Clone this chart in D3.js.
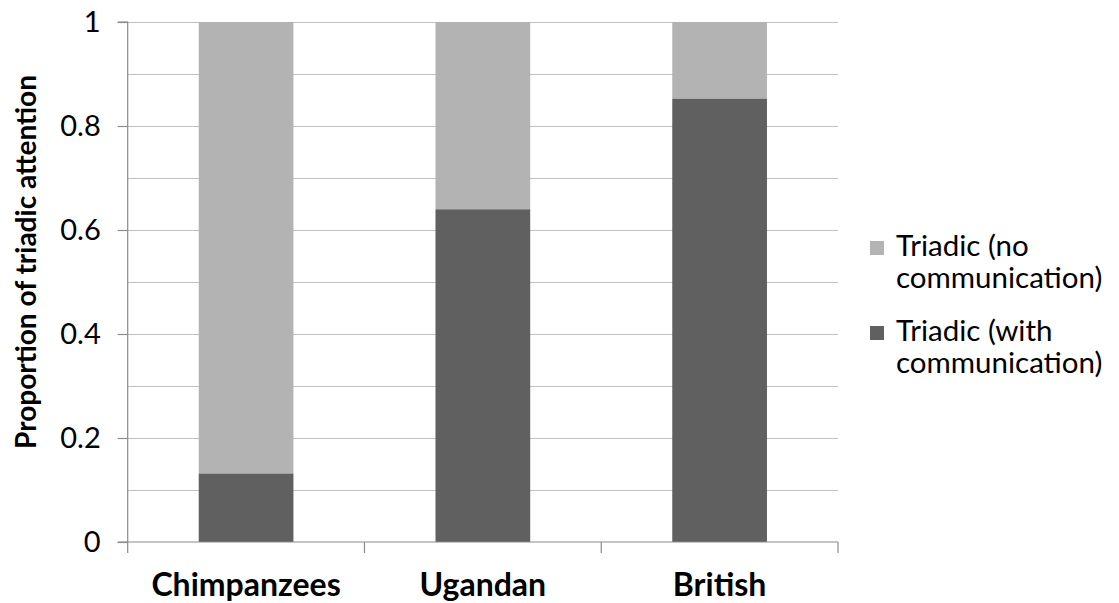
<!DOCTYPE html>
<html>
<head>
<meta charset="utf-8">
<script src="https://cdn.jsdelivr.net/npm/d3@7"></script>
<style>
  html, body { margin: 0; padding: 0; background: #fff; }
  svg { display: block; }
  text { font-family: Lato, "Open Sans", sans-serif; fill: #000; }
</style>
</head>
<body>
<svg id="chart" width="1119" height="603"></svg>
<script>
// Groups along the x axis
const categories = ["Chimpanzees", "Ugandan", "British"];
// Share of triadic episodes accompanied by communication
const withCommunication = [0.132, 0.640, 0.853];
// Remaining share with no communication
const noCommunication = [0.868, 0.360, 0.147];
// Series names, drawn bottom to top
const seriesNames = ["Triadic (with communication)", "Triadic (no communication)"];
const legendLines = [["Triadic (no", "communication)"], ["Triadic (with", "communication)"]];
const seriesColors = ["#606060", "#b3b3b3"];
const yMajorTicks = [0, 0.2, 0.4, 0.6, 0.8, 1];
const yGridTicks = [0.1, 0.2, 0.3, 0.4, 0.5, 0.6, 0.7, 0.8, 0.9, 1];

const svg = d3.select("#chart");
const plot = { left: 127.7, right: 838, top: 22, bottom: 542 };

const x = d3.scaleBand()
  .domain(categories)
  .range([plot.left, plot.right])
  .paddingInner(0.6)
  .paddingOuter(0.3);

const y = d3.scaleLinear().domain([0, 1]).range([plot.bottom, plot.top]);

// Horizontal gridlines
svg.append("g")
  .selectAll("line")
  .data(yGridTicks)
  .join("line")
  .attr("x1", plot.left).attr("x2", plot.right)
  .attr("y1", d => Math.round(y(d)) + 0.5).attr("y2", d => Math.round(y(d)) + 0.5)
  .attr("stroke", "#bfbfbf").attr("stroke-width", 1.2);

// Stacked bars
const rows = categories.map((c, i) => ({
  category: c,
  with: withCommunication[i],
  none: noCommunication[i]
}));
const stack = d3.stack().keys(["with", "none"]);
const layers = stack(rows);

svg.append("g")
  .selectAll("g")
  .data(layers)
  .join("g")
  .attr("fill", (d, i) => seriesColors[i])
  .selectAll("rect")
  .data(d => d)
  .join("rect")
  .attr("x", d => x(d.data.category))
  .attr("width", x.bandwidth())
  .attr("y", d => y(d[1]))
  .attr("height", d => y(d[0]) - y(d[1]));

// Y axis
const yAxis = d3.axisLeft(y)
  .tickValues(yMajorTicks)
  .tickSize(10)
  .tickPadding(17)
  .tickFormat(d => d3.format("~g")(d));

const gy = svg.append("g")
  .attr("transform", `translate(${plot.left},0)`)
  .call(yAxis);
gy.select(".domain").attr("stroke", "#8a8a8a").attr("stroke-width", 1.2).attr("d", `M-10,${plot.top}H0V${plot.bottom}H-10`);
gy.selectAll(".tick line").attr("stroke", "#8a8a8a").attr("stroke-width", 1.2);
gy.selectAll(".tick text")
  .style("font-size", "29px")
  .style("font-family", "Lato, sans-serif")
  .attr("fill", "#000");

// X axis: baseline with separators between categories
const step = x.step();
const boundaries = d3.range(categories.length + 1).map(i => plot.left + i * step);
const gx = svg.append("g");
gx.append("line")
  .attr("x1", plot.left).attr("x2", plot.right)
  .attr("y1", plot.bottom).attr("y2", plot.bottom)
  .attr("stroke", "#8a8a8a").attr("stroke-width", 1.2);
gx.selectAll("line.sep")
  .data(boundaries)
  .join("line")
  .attr("class", "sep")
  .attr("x1", d => d).attr("x2", d => d)
  .attr("y1", plot.bottom).attr("y2", plot.bottom + 11)
  .attr("stroke", "#8a8a8a").attr("stroke-width", 1.2);
gx.selectAll("text")
  .data(categories)
  .join("text")
  .attr("x", d => x(d) + x.bandwidth() / 2)
  .attr("y", 596)
  .attr("text-anchor", "middle")
  .style("font-size", "32px")
  .style("font-weight", "bold")
  .text(d => d);

// Y axis title
svg.append("text")
  .attr("transform", `translate(36,${(plot.top + plot.bottom) / 2 - 20}) rotate(-90)`)
  .attr("text-anchor", "middle")
  .style("font-size", "28px")
  .style("font-weight", "bold")
  .text("Proportion of triadic attention");

// Legend (light series listed first)
const legendOrder = [1, 0];
const legend = svg.append("g");
legendOrder.forEach((s, k) => {
  const top = 233 + k * 85;
  legend.append("rect")
    .attr("x", 870).attr("y", top + 8)
    .attr("width", 14).attr("height", 14)
    .attr("fill", seriesColors[s]);
  legend.append("text")
    .attr("x", 896).attr("y", top + 23)
    .style("font-size", "29.5px")
    .selectAll("tspan")
    .data(legendLines[k])
    .join("tspan")
    .attr("x", 896)
    .attr("dy", (d, i) => i === 0 ? 0 : 32)
    .text(d => d);
});
</script>
</body>
</html>
